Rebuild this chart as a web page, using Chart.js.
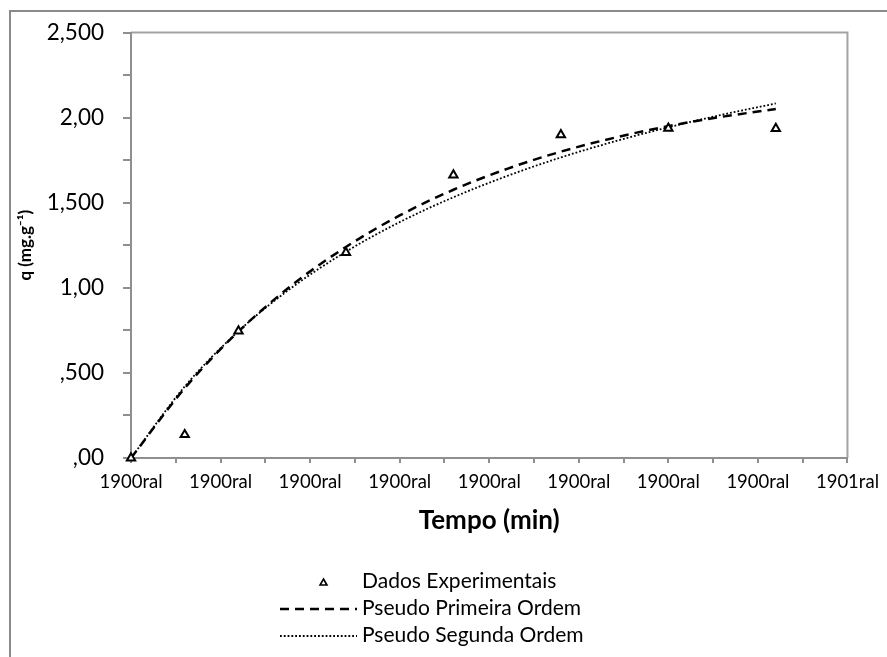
<!DOCTYPE html>
<html>
<head>
<meta charset="utf-8">
<script src="https://cdn.jsdelivr.net/npm/chart.js@4.4.1/dist/chart.umd.min.js"></script>
<style>
  html, body { margin: 0; padding: 0; background: #ffffff; }
  #wrap { position: relative; width: 887px; height: 657px; }
  canvas { display: block; }
</style>
</head>
<body>
<div id="wrap"><canvas id="c" width="887" height="657"></canvas></div>
<script>
// ---- data ----
const seriesNames = ['Dados Experimentais', 'Pseudo Primeira Ordem', 'Pseudo Segunda Ordem'];
const timeExp = [0, 5, 10, 20, 30, 40, 50, 60];
const qExp = [0, 0.137, 0.746, 1.207, 1.662, 1.899, 1.937, 1.936];
const timeModel = [0, 5, 10, 15, 20, 25, 30, 35, 40, 45, 50, 55, 60];
const qPFO = [0, 0.41, 0.743, 1.017, 1.24, 1.425, 1.576, 1.699, 1.80, 1.882, 1.95, 2.005, 2.05];
const qPSO = [0, 0.42, 0.745, 1.003, 1.212, 1.386, 1.532, 1.657, 1.766, 1.86, 1.943, 2.017, 2.083];
const xTickLabels = ['1900ral', '1900ral', '1900ral', '1900ral', '1900ral', '1900ral', '1900ral', '1900ral', '1901ral'];
const yTickLabels = [',00', ',500', '1,00', '1,500', '2,00', '2,500'];
const xAxisTitle = 'Tempo (min)';
const yAxisTitle = 'q (mg.g\u207B\u00B9)';

// ---- axis geometry (label step in minutes, with a minor tick between labels) ----
const xLabelStep = 25 / 3;
const xMax = xLabelStep * (xTickLabels.length - 1);
const yLabelStep = 0.5;
const yMax = yLabelStep * (yTickLabels.length - 1);

const FONT = 'Lato, "Open Sans", "Noto Sans", sans-serif';
const GREY = '#8f8f8f';

const toXY = (xs, ys) => xs.map((x, i) => ({ x: x, y: ys[i] }));

const frame = {
  id: 'frame',
  beforeDraw(chart) {
    const ctx = chart.ctx;
    ctx.save();
    ctx.fillStyle = '#ffffff';
    ctx.fillRect(0, 0, chart.width, chart.height);
    ctx.strokeStyle = '#8a8a8a';
    ctx.lineWidth = 2;
    ctx.beginPath();
    ctx.moveTo(10, chart.height);
    ctx.lineTo(10, 11);
    ctx.lineTo(chart.width, 11);
    ctx.stroke();
    const a = chart.chartArea;
    ctx.strokeStyle = '#a3a3a3';
    ctx.lineWidth = 2;
    ctx.beginPath();
    ctx.moveTo(a.left, a.top);
    ctx.lineTo(a.right, a.top);
    ctx.lineTo(a.right, a.bottom);
    ctx.stroke();
    ctx.restore();
  }
};

function drawTri(ctx, x, y, r, lw) {
  ctx.beginPath();
  ctx.moveTo(x, y - r);
  ctx.lineTo(x + r * 0.866, y + r * 0.5);
  ctx.lineTo(x - r * 0.866, y + r * 0.5);
  ctx.closePath();
  ctx.fillStyle = '#ffffff';
  ctx.fill();
  ctx.lineWidth = lw;
  ctx.strokeStyle = '#000000';
  ctx.stroke();
}

const customLegend = {
  id: 'customLegend',
  afterDraw(chart) {
    const ctx = chart.ctx;
    const ds = chart.data.datasets;
    const textX = 362, lineX0 = 280, lineX1 = 357;
    const rows = [581, 608, 635];
    ctx.save();
    ctx.font = '21px ' + FONT;
    ctx.textAlign = 'left';
    ctx.textBaseline = 'middle';
    ds.forEach((d, i) => {
      const y = rows[i];
      if (d.showLine === false) {
        drawTri(ctx, (lineX0 + lineX1) / 2 + 5, y + 2, 4, 1.6);
      } else {
        ctx.beginPath();
        ctx.setLineDash(d.borderDash || []);
        ctx.lineWidth = d.borderWidth;
        ctx.strokeStyle = d.borderColor;
        ctx.moveTo(lineX0, y + 1);
        ctx.lineTo(lineX1, y + 1);
        ctx.stroke();
        ctx.setLineDash([]);
      }
      ctx.fillStyle = '#000000';
      ctx.fillText(d.label, textX, y);
    });
    ctx.restore();
  }
};

new Chart(document.getElementById('c'), {
  type: 'scatter',
  data: {
    datasets: [
      {
        label: seriesNames[0],
        data: toXY(timeExp, qExp),
        showLine: false,
        pointStyle: 'triangle',
        pointRadius: 4.8,
        pointHoverRadius: 4.8,
        pointBorderWidth: 2,
        borderColor: '#000000',
        backgroundColor: '#ffffff',
        clip: false,
        order: 0
      },
      {
        label: seriesNames[1],
        data: toXY(timeModel, qPFO),
        showLine: true,
        borderColor: '#000000',
        borderWidth: 2.5,
        borderDash: [9, 6],
        pointRadius: 0,
        tension: 0.4,
        cubicInterpolationMode: 'monotone',
        fill: false,
        order: 1
      },
      {
        label: seriesNames[2],
        data: toXY(timeModel, qPSO),
        showLine: true,
        borderColor: '#000000',
        borderWidth: 1.8,
        borderDash: [1.8, 2],
        pointRadius: 0,
        tension: 0.4,
        cubicInterpolationMode: 'monotone',
        fill: false,
        order: 2
      }
    ]
  },
  options: {
    responsive: false,
    animation: false,
    devicePixelRatio: 1,
    layout: { padding: { left: 0, top: 31, right: 34, bottom: 110 } },
    plugins: {
      legend: { display: false },
      tooltip: { enabled: false },
      title: { display: false }
    },
    scales: {
      x: {
        type: 'linear',
        min: 0,
        max: xMax,
        afterFit(s) { s.height = 89; },
        afterBuildTicks(s) {
          const t = [];
          for (let i = 0; i <= (xTickLabels.length - 1) * 2; i++) t.push({ value: i * xLabelStep / 2 });
          s.ticks = t;
        },
        border: { display: true, color: GREY, width: 2 },
        grid: { display: true, drawOnChartArea: false, drawTicks: true, tickLength: 5, color: GREY, lineWidth: 2 },
        ticks: {
          autoSkip: false,
          maxRotation: 0,
          minRotation: 0,
          padding: 8,
          color: '#000000',
          font: { family: FONT, size: 18.5 },
          callback(v, i) { return i % 2 === 0 ? xTickLabels[i / 2] : ''; }
        },
        title: {
          display: true,
          text: xAxisTitle,
          color: '#000000',
          font: { family: FONT, size: 26, weight: 'bold' },
          padding: { top: 0, bottom: 11 }
        }
      },
      y: {
        type: 'linear',
        min: 0,
        max: yMax,
        afterFit(s) { s.width = 131; },
        afterBuildTicks(s) {
          const t = [];
          for (let i = 0; i <= (yTickLabels.length - 1) * 2; i++) t.push({ value: i * yLabelStep / 2 });
          s.ticks = t;
        },
        border: { display: true, color: GREY, width: 2 },
        grid: { display: true, drawOnChartArea: false, drawTicks: true, tickLength: 8, color: GREY, lineWidth: 2 },
        ticks: {
          autoSkip: false,
          padding: 19,
          color: '#000000',
          font: { family: FONT, size: 22.5 },
          callback(v, i) { return i % 2 === 0 ? yTickLabels[i / 2] : ''; }
        },
        title: {
          display: true,
          text: yAxisTitle,
          color: '#000000',
          font: { family: FONT, size: 17, weight: 'bold' },
          padding: { top: 15, bottom: 0 }
        }
      }
    }
  },
  plugins: [frame, customLegend]
});
</script>
</body>
</html>
